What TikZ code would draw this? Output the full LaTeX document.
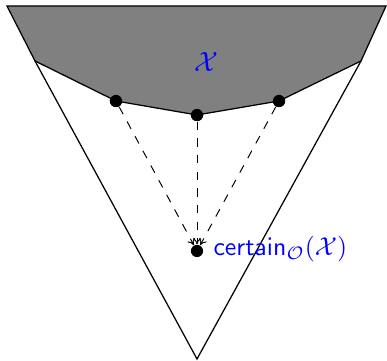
\documentclass[tikz,border=0pt]{standalone}
\usetikzlibrary{arrows.meta}
\begin{document}
\begin{tikzpicture}[x=0.36pt,y=-0.36pt,
  dot/.style={circle,fill=black,inner sep=0pt,minimum size=4.4pt},
  edge/.style={line width=0.45pt},
  ray/.style={dashed,line width=0.35pt,-{To[length=2.2pt,width=3pt]}},
  lbl/.style={text=blue,inner sep=0pt}]
\useasboundingbox (0,0) rectangle (387,361);
\coordinate (tl) at (7,6);
\coordinate (tr) at (386,6);
\coordinate (pl) at (35,61);
\coordinate (pr) at (361,61);
\coordinate (apex) at (197,359);
\node[dot] (a) at (116,101) {};
\node[dot] (b) at (197,115) {};
\node[dot] (c) at (279,101) {};
\draw[edge,fill=gray] (tl) -- (tr) -- (pr) -- (c.center) -- (b.center) -- (a.center) -- (pl) -- cycle;
\draw[edge] (pl) -- (apex) -- (pr);
\node[lbl] (X) at (206,62) {$\mathcal{X}$};
\node[dot] (o) at (197,251) {};
\draw[ray] (a) -- (o);
\draw[ray] (b) -- (o);
\draw[ray] (c) -- (o);
\node[lbl,anchor=west,scale=0.93] (cert) at (213,249) {$\mathsf{certain}_{\mathcal{O}}(\mathcal{X})$};
\node[dot] at (a) {};
\node[dot] at (b) {};
\node[dot] at (c) {};
\end{tikzpicture}
\end{document}
